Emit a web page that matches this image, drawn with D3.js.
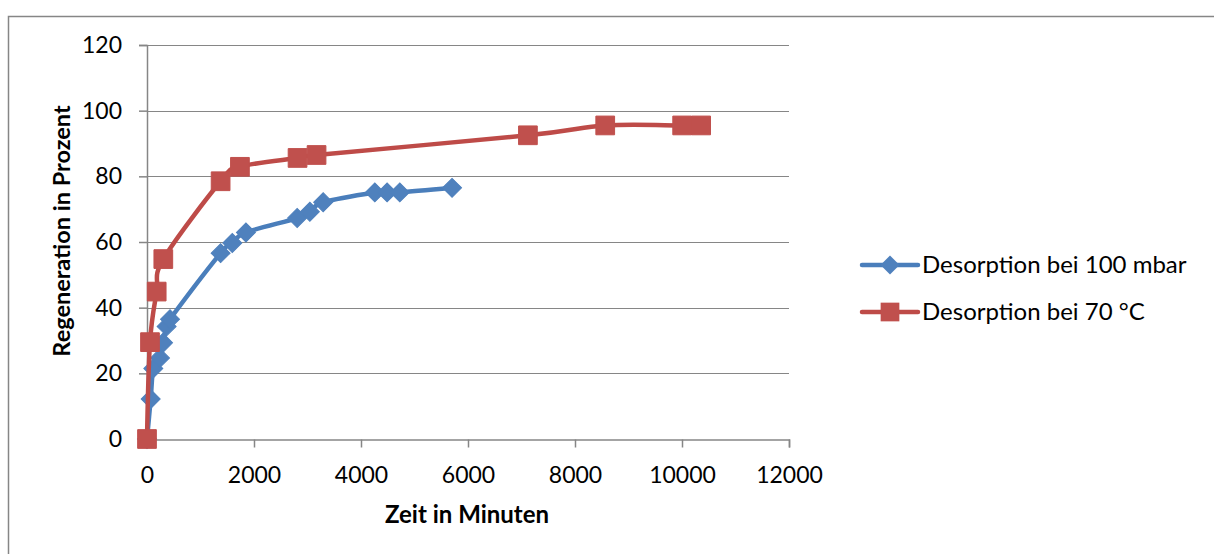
<!DOCTYPE html>
<html><head><meta charset="utf-8">
<script src="https://cdn.jsdelivr.net/npm/d3@7"></script>
<style>body{margin:0;background:#fff;} svg{display:block;font-family:Lato, "Open Sans", sans-serif;}</style>
</head><body><svg id="c" width="1214" height="554"></svg>
<script>
const blueX = [0, 69, 118, 243, 300, 367, 430, 1376, 1594, 1849, 2807, 3044, 3293, 4258, 4488, 4725, 5702];
const blueY = [0, 12.2, 21.5, 24.7, 29.3, 34.3, 36.5, 56.6, 59.7, 62.9, 67.3, 69.2, 72.1, 75.1, 75.1, 75.1, 76.5];
const redX = [0, 56, 181, 305, 1376, 1737, 2814, 3169, 7120, 8565, 10003, 10358];
const redY = [0, 29.5, 44.9, 54.8, 78.5, 82.9, 85.6, 86.5, 92.5, 95.5, 95.5, 95.5];
const xTicks = [0, 2000, 4000, 6000, 8000, 10000, 12000];
const yTicks = [0, 20, 40, 60, 80, 100, 120];
const seriesNames = ["Desorption bei 100 mbar", "Desorption bei 70 °C"];
const colors = ["#4A7EBB", "#BE4B48"];
const markerColors = ["#4F81BD", "#C0504D"];

const svg = d3.select("#c");
svg.append("rect").attr("x", 8.5).attr("y", 16.5).attr("width", 1220).attr("height", 560)
  .attr("fill", "#fff").attr("stroke", "#868686").attr("stroke-width", 1.5);

const x = d3.scaleLinear().domain([0, 12000]).range([147, 789]);
const y = d3.scaleLinear().domain([0, 120]).range([439, 45]);

// gridlines
svg.append("g").selectAll("line").data(yTicks.filter(d => d > 0)).join("line")
  .attr("x1", x(0)).attr("x2", x(12000)).attr("y1", d => Math.round(y(d)) + 0.5).attr("y2", d => Math.round(y(d)) + 0.5)
  .attr("stroke", "#868686").attr("stroke-width", 1.2);

// axes
const xa = svg.append("g").attr("transform", `translate(0,${Math.round(y(0)) + 0.5})`)
  .call(d3.axisBottom(x).tickValues(xTicks).tickSize(8).tickPadding(19).tickFormat(d3.format("d")));
const ya = svg.append("g").attr("transform", `translate(${x(0)},0)`)
  .call(d3.axisLeft(y).tickValues(yTicks).tickSize(8).tickPadding(17).tickFormat(d3.format("d")));
[xa, ya].forEach(a => {
  a.select(".domain").attr("stroke", "#868686").attr("stroke-width", 1.5);
  a.selectAll(".tick line").attr("stroke", "#868686").attr("stroke-width", 1.5);
  a.selectAll("text").attr("fill", "#000").style("font-size", "23px").style("font-family", "Lato, sans-serif");
});

// series (Excel-style smoothed line)
const line = d3.line().curve(d3.curveCatmullRom.alpha(0)).x(d => x(d[0])).y(d => y(d[1]));
const series = [
  blueX.map((v, i) => [v, blueY[i]]),
  redX.map((v, i) => [v, redY[i]])
];
const sq = d3.symbol().type(d3.symbolSquare).size(350);
const dm = d3.symbol().type(d3.symbolSquare).size(180);

series.forEach((data, i) => {
  svg.append("path").datum(data).attr("d", line).attr("fill", "none")
    .attr("stroke", colors[i]).attr("stroke-width", 4.5).attr("stroke-linejoin", "round").attr("stroke-linecap", "round");
  svg.append("g").selectAll("path").data(data).join("path")
    .attr("d", i === 0 ? dm : sq)
    .attr("transform", d => `translate(${x(d[0])},${y(d[1])})` + (i === 0 ? " rotate(45)" : ""))
    .attr("fill", markerColors[i]).attr("stroke", markerColors[i]).attr("stroke-width", 1);
});

// legend
const leg = svg.append("g");
seriesNames.forEach((name, i) => {
  const ly = 265 + i * 47;
  leg.append("line").attr("x1", 862).attr("x2", 918).attr("y1", ly).attr("y2", ly)
    .attr("stroke", colors[i]).attr("stroke-width", 4.5).attr("stroke-linecap", "round");
  leg.append("path").attr("d", i === 0 ? dm : sq)
    .attr("transform", `translate(890,${ly})` + (i === 0 ? " rotate(45)" : ""))
    .attr("fill", markerColors[i]);
  leg.append("text").attr("x", 922).attr("y", ly).attr("dy", "0.35em")
    .style("font-size", "24px").text(name);
});

// axis titles
svg.append("text").attr("x", 467).attr("y", 515).attr("dy", "0.35em").attr("text-anchor", "middle")
  .style("font-size", "24px").style("font-weight", "bold").text("Zeit in Minuten");
svg.append("text").attr("transform", "translate(62,231) rotate(-90)").attr("dy", "0.35em").attr("text-anchor", "middle")
  .style("font-size", "23.5px").style("font-weight", "bold").text("Regeneration in Prozent");
</script></body></html>
